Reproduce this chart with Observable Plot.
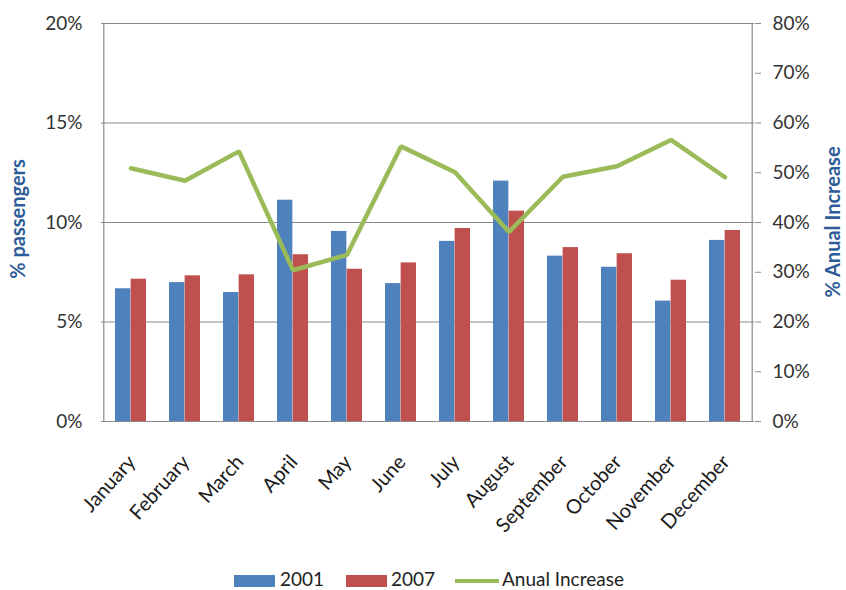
<!DOCTYPE html>
<html>
<head>
<meta charset="utf-8">
<script src="https://cdn.jsdelivr.net/npm/d3@7"></script>
<script src="https://cdn.jsdelivr.net/npm/@observablehq/plot@0.6"></script>
<style>
  body { margin: 0; background: #fff; }
  #chart { width: 846px; }
  #chart svg { display: block; }
  .legend { position: relative; width: 846px; height: 28px; font-family: Lato, "Open Sans", sans-serif; font-size: 19px; color: #222; }
  .sw { position: absolute; top: 13px; height: 12px; }
  .lt { position: absolute; top: 6px; line-height: 22px; }
</style>
</head>
<body>
<div id="chart"></div>
<script>
const months = ["January","February","March","April","May","June","July","August","September","October","November","December"];
const pass2001 = [6.67, 6.98, 6.48, 11.12, 9.55, 6.93, 9.05, 12.08, 8.31, 7.75, 6.05, 9.10];
const pass2007 = [7.15, 7.32, 7.37, 8.38, 7.65, 7.97, 9.70, 10.57, 8.74, 8.43, 7.10, 9.60];
const annualIncrease = [50.9, 48.4, 54.3, 30.4, 33.5, 55.3, 50.1, 38.1, 49.2, 51.3, 56.6, 49.1];
const leftTicks = [0, 5, 10, 15, 20];
const rightTicks = [0, 10, 20, 30, 40, 50, 60, 70, 80];

const rows = months.map((m, i) => ({month: m, a: pass2001[i], b: pass2007[i], inc: annualIncrease[i] / 4}));

const W = 846, H = 562;
const mL = 101, mR = 92, mT = 23, mB = H - 421;
const step = (W - mL - mR) / months.length;
const pad = 0.425;
const half = step * (1 - pad) / 2;

const font = "Lato, 'Open Sans', sans-serif";
const grid = "#8a8a8a";

const plot = Plot.plot({
  width: W, height: H,
  marginLeft: mL, marginRight: mR, marginTop: mT, marginBottom: mB,
  style: {fontFamily: font, fontSize: "19px", color: "#333", background: "#fff"},
  x: {domain: months, paddingInner: pad, paddingOuter: pad / 2, label: null, axis: null},
  y: {domain: [0, 20], label: null},
  marks: [
    Plot.gridY(leftTicks.slice(1), {stroke: grid, strokeOpacity: 1, strokeWidth: 1.2}),
    Plot.barY(rows, {x: "month", y: "a", fill: "#4F81BD", insetRight: half, insetLeft: 0}),
    Plot.barY(rows, {x: "month", y: "b", fill: "#C0504D", insetLeft: half, insetRight: 0}),
    Plot.line(rows, {x: "month", y: "inc", stroke: "#9BBB59", strokeWidth: 4.5, strokeLinejoin: "miter"}),
    Plot.axisY({ticks: leftTicks, tickFormat: d => d + "%", tickSize: 0, tickPadding: 19, stroke: grid, fill: "#333", fontSize: 19}),
    Plot.axisY({anchor: "right", ticks: rightTicks.map(d => d / 4), tickFormat: d => (d * 4) + "%", tickSize: 6, tickPadding: 12, stroke: grid, fill: "#333", fontSize: 19}),
    Plot.ruleX([months[0]], {x: d => d, dx: -step / 2, y1: 0, y2: 20, stroke: grid, strokeWidth: 1.2}),
    Plot.ruleX([months[11]], {x: d => d, dx: step / 2, y1: 0, y2: 20, stroke: grid, strokeWidth: 1.2}),
    Plot.ruleY([0], {stroke: grid, strokeWidth: 1.2}),
    Plot.text(months, {x: d => d, y: 0, text: d => d, rotate: -48, textAnchor: "end", dx: 1, dy: 37, fontSize: 20, fill: "#1a1a1a"}),
  ]
});
document.getElementById("chart").appendChild(plot);

// axis titles
const svg = d3.select(plot);
svg.append("text")
  .attr("transform", `translate(25,219) rotate(-90)`)
  .attr("text-anchor", "middle")
  .attr("fill", "#2E5C99").attr("font-weight", "bold")
  .attr("font-family", font).attr("font-size", 20)
  .text("% passengers");
svg.append("text")
  .attr("transform", `translate(840,222) rotate(-90)`)
  .attr("text-anchor", "middle")
  .attr("fill", "#2E5C99").attr("font-weight", "bold")
  .attr("font-family", font).attr("font-size", 20)
  .text("% Anual Increase");

// legend
const leg = document.createElement("div");
leg.className = "legend";
leg.innerHTML = `
  <div class="sw" style="left:234px;width:41px;background:#4F81BD"></div><div class="lt" style="left:280px">2001</div>
  <div class="sw" style="left:346px;width:41px;background:#C0504D"></div><div class="lt" style="left:391px">2007</div>
  <div class="sw" style="left:455px;width:44px;top:17px;height:4px;background:#9BBB59"></div><div class="lt" style="left:502px">Anual Increase</div>`;
document.getElementById("chart").appendChild(leg);
</script>
</body>
</html>
